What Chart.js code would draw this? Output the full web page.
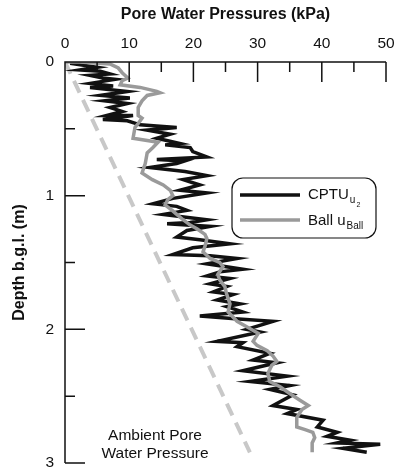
<!DOCTYPE html>
<html>
<head>
<meta charset="utf-8">
<script src="https://cdn.jsdelivr.net/npm/chart.js@4/dist/chart.umd.min.js"></script>
<style>
  html, body { margin: 0; padding: 0; background: #fff; }
</style>
</head>
<body>
<canvas id="chart" width="396" height="471"></canvas>
<script>
// DATA (depth in m below ground level, pressure in kPa)
const cptuU = [0.8, 5.0, 2.3, 5.5, 7.0, 3.9, 5.9, 7.8, 3.9, 7.5, 3.9, 9.7, 5.5, 10.1, 6.2, 9.7, 7.0, 8.9, 6.5, 10.6,
  5.9, 9.7, 11.7, 17.4, 12.8, 16.4, 14.3, 17.9, 15.6, 19.5, 19.9, 22.1, 14.3, 18.7, 17.4, 13.2, 18.7, 22.1, 18.4, 21.0,
  17.9, 22.1, 16.8, 13.7, 17.4, 19.0, 15.3, 22.1, 19.5, 15.9, 22.6, 19.0, 17.4, 21.0, 25.7, 19.9, 16.8, 22.6, 26.8, 22.1,
  27.7, 24.1, 22.1, 25.7, 22.6, 25.2, 23.1, 26.2, 23.7, 27.3, 25.2, 27.7, 21.0, 26.5, 32.4, 28.3, 30.4, 23.7, 27.7, 26.8,
  31.9, 29.3, 33.0, 27.7, 34.6, 28.8, 35.0, 31.9, 35.5, 32.4, 36.1, 34.6, 40.2, 39.3, 42.4, 40.8, 44.4, 42.4, 49.1, 43.3, 47.0];
const cptuDepth = [0.01, 0.04, 0.06, 0.07, 0.09, 0.10, 0.12, 0.13, 0.16, 0.18, 0.19, 0.22, 0.25, 0.27, 0.29, 0.31, 0.34, 0.37, 0.40, 0.40,
  0.43, 0.44, 0.47, 0.49, 0.51, 0.54, 0.57, 0.61, 0.62, 0.64, 0.67, 0.71, 0.73, 0.74, 0.76, 0.79, 0.82, 0.85, 0.88, 0.92,
  0.96, 0.98, 1.02, 1.06, 1.08, 1.11, 1.14, 1.18, 1.20, 1.21, 1.23, 1.26, 1.31, 1.33, 1.36, 1.39, 1.44, 1.45, 1.47, 1.51,
  1.55, 1.57, 1.60, 1.62, 1.66, 1.68, 1.72, 1.74, 1.78, 1.81, 1.83, 1.87, 1.90, 1.92, 1.94, 2.00, 2.02, 2.09, 2.10, 2.13,
  2.18, 2.23, 2.25, 2.31, 2.35, 2.39, 2.42, 2.45, 2.49, 2.57, 2.60, 2.63, 2.68, 2.73, 2.77, 2.80, 2.83, 2.85, 2.86, 2.89, 2.92];

const ballU = [0, 2.3, 7.0, 8.3, 8.9, 9.8, 8.9, 8.6, 11.7, 14.3, 14.8, 12.8, 12.0, 11.4, 11.4, 12.0, 11.4, 10.9, 10.6, 14.5,
  13.7, 12.8, 12.5, 12.0, 13.6, 15.3, 16.4, 16.8, 16.0, 15.6, 16.7, 17.4, 18.4, 19.5, 20.6, 21.8, 22.1, 21.8, 21.5, 22.6,
  24.1, 24.6, 23.8, 24.1, 24.9, 25.2, 25.7, 25.4, 26.8, 28.3, 30.1, 29.3, 29.9, 31.5, 32.4, 33.0, 32.2, 31.6, 31.9, 33.5,
  35.0, 36.6, 37.9, 36.9, 36.1, 36.1, 37.4, 38.6, 38.9, 38.5, 38.5];
const ballDepth = [0, 0, 0.015, 0.045, 0.08, 0.12, 0.14, 0.17, 0.19, 0.22, 0.23, 0.25, 0.29, 0.34, 0.40, 0.42, 0.46, 0.49, 0.57, 0.60,
  0.64, 0.68, 0.76, 0.83, 0.88, 0.92, 0.96, 1.00, 1.03, 1.07, 1.11, 1.14, 1.18, 1.22, 1.25, 1.29, 1.32, 1.38, 1.42, 1.47,
  1.50, 1.53, 1.59, 1.63, 1.68, 1.74, 1.81, 1.87, 1.94, 1.98, 2.03, 2.09, 2.12, 2.16, 2.20, 2.24, 2.27, 2.33, 2.39, 2.43,
  2.48, 2.53, 2.57, 2.60, 2.66, 2.73, 2.75, 2.77, 2.81, 2.85, 2.92];

const ambientU = [0, 28.8];
const ambientDepth = [0, 2.92];

const xMinorTicks = [5, 15, 25, 35, 45];
const yMinorTicks = [0.5, 1.5, 2.5];

const FONT = "'Liberation Sans', Arial, Helvetica, sans-serif";
const INK = "#111";

function toPoints(xs, ys) {
  return xs.map((v, i) => ({ x: v, y: ys[i] }));
}

// axes lines, inward ticks, legend box and the ambient label
const frame = {
  id: "frame",
  afterDatasetsDraw(chart) {
    const { ctx, chartArea: a, scales: { x, y } } = chart;
    ctx.save();
    ctx.strokeStyle = INK;
    ctx.lineWidth = 1.5;
    ctx.beginPath();
    ctx.moveTo(a.left, a.bottom);
    ctx.lineTo(a.left, a.top);
    ctx.lineTo(a.right, a.top);
    x.ticks.forEach(t => {
      const px = x.getPixelForValue(t.value);
      ctx.moveTo(px, a.top); ctx.lineTo(px, a.top + 20);
    });
    xMinorTicks.forEach(v => {
      const px = x.getPixelForValue(v);
      ctx.moveTo(px, a.top); ctx.lineTo(px, a.top + 10);
    });
    y.ticks.forEach(t => {
      const py = y.getPixelForValue(t.value);
      ctx.moveTo(a.left, py); ctx.lineTo(a.left + 20, py);
    });
    yMinorTicks.forEach(v => {
      const py = y.getPixelForValue(v);
      ctx.moveTo(a.left, py); ctx.lineTo(a.left + 10, py);
    });
    ctx.stroke();

    // legend
    const bx = 232, by = 178, bw = 144, bh = 60;
    ctx.fillStyle = "#fff";
    ctx.lineWidth = 1.2;
    ctx.beginPath();
    ctx.roundRect(bx, by, bw, bh, 11);
    ctx.fill();
    ctx.stroke();

    ctx.lineWidth = 3.5;
    ctx.strokeStyle = INK;
    ctx.beginPath(); ctx.moveTo(240, 195); ctx.lineTo(300, 195); ctx.stroke();
    ctx.strokeStyle = "#9a9a9a";
    ctx.beginPath(); ctx.moveTo(240, 220); ctx.lineTo(300, 220); ctx.stroke();

    ctx.fillStyle = INK;
    ctx.textAlign = "left";
    ctx.textBaseline = "alphabetic";
    ctx.font = "15px " + FONT;
    ctx.fillText("CPTU", 308, 199);
    let w = ctx.measureText("CPTU").width;
    ctx.font = "10px " + FONT;
    ctx.fillText("u", 308 + w + 1, 203);
    let w2 = ctx.measureText("u").width;
    ctx.font = "7px " + FONT;
    ctx.fillText("2", 308 + w + w2 + 2, 207);

    ctx.font = "15px " + FONT;
    ctx.fillText("Ball u", 308, 225);
    w = ctx.measureText("Ball u").width;
    ctx.font = "10px " + FONT;
    ctx.fillText("Ball", 308 + w + 1, 229);

    // ambient label
    ctx.font = "15.5px " + FONT;
    ctx.textAlign = "center";
    ctx.fillText("Ambient Pore", 155, 440);
    ctx.fillText("Water Pressure", 155, 458);
    ctx.restore();
  }
};

const chart = new Chart(document.getElementById("chart"), {
  type: "scatter",
  data: {
    datasets: [
      {
        label: "Ball uBall",
        data: toPoints(ballU, ballDepth),
        showLine: true,
        borderColor: "#9a9a9a",
        borderWidth: 3.5,
        pointRadius: 0,
        tension: 0,
        order: 0
      },
      {
        label: "CPTU u2",
        data: toPoints(cptuU, cptuDepth),
        showLine: true,
        borderColor: INK,
        borderWidth: 3.5,
        borderJoinStyle: "miter",
        pointRadius: 0,
        tension: 0,
        order: 1
      },
      {
        label: "Ambient",
        data: toPoints(ambientU, ambientDepth),
        showLine: true,
        borderColor: "#c8c8c8",
        borderWidth: 4,
        borderDash: [13, 8],
        pointRadius: 0,
        order: 2
      }
    ]
  },
  options: {
    responsive: false,
    animation: false,
    layout: { padding: { left: 0, top: 0, right: 10, bottom: 8 } },
    plugins: { legend: { display: false }, tooltip: { enabled: false } },
    scales: {
      x: {
        type: "linear",
        position: "top",
        min: 0,
        max: 50,
        ticks: { stepSize: 10, padding: 9, color: INK, font: { family: FONT, size: 15.5 } },
        grid: { display: false, drawTicks: false },
        border: { display: false },
        title: {
          display: true,
          text: "Pore Water Pressures (kPa)",
          color: INK,
          font: { family: FONT, size: 16, weight: "bold" },
          padding: { top: 5, bottom: 0 }
        },
        afterFit(s) { s.height = 62; s.paddingLeft = 0; s.paddingRight = 0; }
      },
      y: {
        type: "linear",
        reverse: true,
        min: 0,
        max: 3,
        ticks: { stepSize: 1, padding: 11, color: INK, font: { family: FONT, size: 15.5 } },
        grid: { display: false, drawTicks: false },
        border: { display: false },
        title: {
          display: true,
          text: "Depth b.g.l. (m)",
          color: INK,
          font: { family: FONT, size: 16, weight: "bold" },
          padding: { top: 10, bottom: 0 }
        },
        afterFit(s) { s.width = 65; s.paddingTop = 0; s.paddingBottom = 0; }
      }
    }
  },
  plugins: [frame]
});
</script>
</body>
</html>
